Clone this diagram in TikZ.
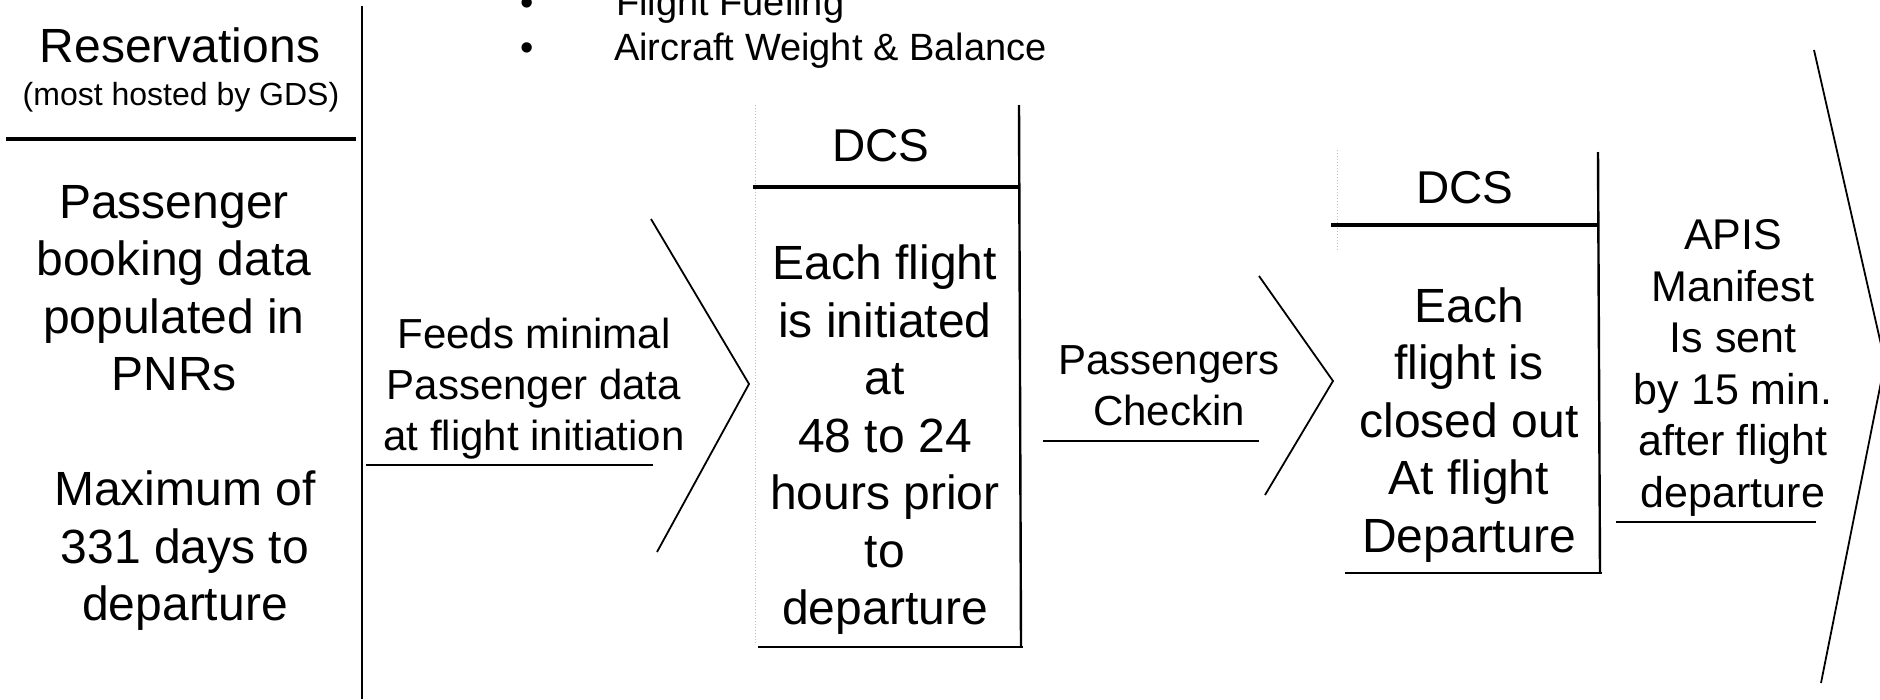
\documentclass[tikz,border=0pt]{standalone}
\usepackage{fontspec}
\setmainfont{Liberation Sans}
\begin{document}
\begin{tikzpicture}[x=1pt,y=-1pt,
  big/.style={font=\fontsize{48}{57.5}\selectfont, align=center, inner sep=0pt},
  mid/.style={font=\fontsize{42}{51}\selectfont, align=center, inner sep=0pt},
  apisfont/.style={font=\fontsize{43}{51.6}\selectfont, align=center, inner sep=0pt},
  hdr/.style={font=\fontsize{46}{50}\selectfont, inner sep=0pt},
  small/.style={font=\fontsize{32}{36}\selectfont, inner sep=0pt},
  bul/.style={font=\fontsize{38}{44}\selectfont, inner sep=0pt},
  ln/.style={line width=2.4pt},
  thickln/.style={line width=4.5pt},
  chev/.style={line width=1.8pt, line join=miter},
  faint/.style={line width=1pt, gray!50, dotted}
]
\useasboundingbox (0,0) rectangle (1880,699);
\fill[white] (0,0) rectangle (1880,699);

% top bullet list
\node[bul, anchor=base] (b1) at (527,15) {•};
\node[bul, anchor=base west] (fuel) at (616,15) {Flight Fueling};
\node[bul, anchor=base] (b2) at (527,60) {•};
\node[bul, anchor=base west] (wb) at (614,60) {Aircraft Weight \& Balance};

% reservations column
\node[big] (res) at (180,45) {Reservations};
\node[small] (resnote) at (181,97) {(most hosted by GDS)};
\coordinate (rl1) at (6,139);
\coordinate (rl2) at (356,139);
\draw[thickln] (rl1) -- (rl2);
\coordinate (v1) at (362,6);
\coordinate (v2) at (362,699);
\draw[ln] (v1) -- (v2);
\node[big] (pnr) at (174,288) {Passenger\\booking data\\populated in\\PNRs};
\node[big] (maxd) at (185,551) {Maximum of\\331 days to\\departure};

% first chevron
\node[mid] (feed) at (534,389) {Feeds minimal\\Passenger data\\at flight initiation};
\coordinate (u1a) at (366,465);
\coordinate (u1b) at (653,465);
\draw[ln] (u1a) -- (u1b);
\coordinate (c1a) at (651,219);
\coordinate (c1b) at (749,384);
\coordinate (c1c) at (657,552);
\draw[chev] (c1a) -- (c1b) -- (c1c);

% DCS box 1
\coordinate (d1tl) at (755,105);
\coordinate (d1tr) at (1019,105);
\coordinate (d1hl) at (753,187);
\coordinate (d1hr) at (1019,187);
\coordinate (d1bl) at (758,647);
\coordinate (d1br) at (1021,647);
\draw[faint] (d1tl) -- (755,645);
\draw[ln] (d1tr) -- (d1br);
\draw[thickln] (d1hl) -- (d1hr);
\draw[ln] (d1bl) -- (1023,647);
\node[hdr] (dcs1) at (881,146) {DCS};
\node[big] (dcs1b) at (885,440) {Each flight\\is initiated\\at\\48 to 24\\hours prior\\to\\departure};

% second chevron
\node[mid] (chk) at (1169,386) {Passengers\\Checkin};
\coordinate (u2a) at (1043,441);
\coordinate (u2b) at (1259,441);
\draw[ln] (u2a) -- (u2b);
\coordinate (c2a) at (1259,276);
\coordinate (c2b) at (1333,381);
\coordinate (c2c) at (1265,495);
\draw[chev] (c2a) -- (c2b) -- (c2c);

% DCS box 2
\coordinate (d2tr) at (1598,152);
\coordinate (d2br) at (1600,573);
\coordinate (d2hl) at (1331,225);
\coordinate (d2hr) at (1598,225);
\coordinate (d2bl) at (1345,573);
\draw[faint] (1337,150) -- (1337,250);
\draw[ln] (d2tr) -- (d2br);
\draw[thickln] (d2hl) -- (d2hr);
\draw[ln] (d2bl) -- (1602,573);
\node[hdr] (dcs2) at (1465,188) {DCS};
\node[big] (dcs2b) at (1469,425) {Each\\flight is\\closed out\\At flight\\Departure};

% APIS
\node[apisfont] (apis) at (1733,368) {APIS\\Manifest\\Is sent\\by 15 min.\\after flight\\departure};
\coordinate (u3a) at (1616,522);
\coordinate (u3b) at (1816,522);
\draw[ln] (u3a) -- (u3b);
\coordinate (c3a) at (1814,50);
\coordinate (c3b) at (1885,362);
\coordinate (c3c) at (1821,683);
\draw[chev] (c3a) -- (c3b) -- (c3c);
\end{tikzpicture}
\end{document}
